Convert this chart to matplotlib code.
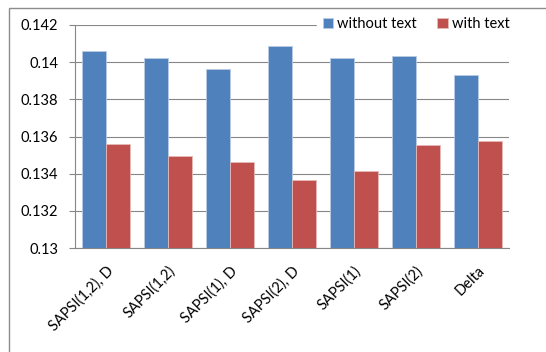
import numpy as np
import matplotlib
matplotlib.use("Agg")
import matplotlib.pyplot as plt
from matplotlib.patches import Rectangle

# Scores per feature set
categories = ["SAPSI(1,2), D", "SAPSI(1,2)", "SAPSI(1), D", "SAPSI(2), D",
              "SAPSI(1)", "SAPSI(2)", "Delta"]
without_text = [0.14060, 0.14024, 0.13962, 0.14089, 0.14024, 0.14032, 0.13933]
with_text = [0.13560, 0.13496, 0.13465, 0.13367, 0.13415, 0.13553, 0.13574]
yticks = [0.13, 0.132, 0.134, 0.136, 0.138, 0.14, 0.142]
ytick_labels = ["0.13", "0.132", "0.134", "0.136", "0.138", "0.14", "0.142"]

BLUE = "#4F81BD"
RED = "#C0504D"
GRID = "#878787"

plt.rcParams["font.family"] = ["Lato", "DejaVu Sans"]

fig = plt.figure(figsize=(5.46, 3.52), dpi=100)
ax = fig.add_axes([75 / 546, 1 - 248 / 352, 434 / 546, 223 / 352])

# outer chart frame (runs off the right and bottom edges)
fig.patches.append(Rectangle((9 / 546, -0.1), 1.0, 1 - 8 / 352 + 0.1,
                             transform=fig.transFigure, fill=False,
                             edgecolor="#8c8c8c", linewidth=1.0))

x = np.arange(len(categories))
w = 0.38
ax.bar(x - w / 2, without_text, w, color=BLUE, edgecolor="#b8cce4",
       linewidth=0.6, label="without text", zorder=3)
ax.bar(x + w / 2, with_text, w, color=RED, edgecolor="#e6b9b8",
       linewidth=0.6, label="with text", zorder=3)

ax.set_xlim(-0.5, len(categories) - 0.5)
ax.set_ylim(0.13, 0.142)
ax.set_yticks(yticks)
ax.set_yticklabels(ytick_labels, fontsize=10.5)
ax.yaxis.grid(True, color=GRID, linewidth=0.8, zorder=0)
ax.set_axisbelow(True)

ax.set_xticks(x)
ax.set_xticklabels(categories, rotation=45, ha="right",
                   rotation_mode="anchor", fontsize=10.5)
ax.tick_params(axis="x", length=0, pad=11)
ax.tick_params(axis="y", length=4, color=GRID, pad=8)

for side in ["top", "right"]:
    ax.spines[side].set_visible(False)
ax.spines["left"].set_color(GRID)
ax.spines["bottom"].set_color(GRID)

leg = ax.legend(loc="upper right", bbox_to_anchor=(1.015, 1.06), ncol=2,
                frameon=True, fancybox=False, fontsize=10.5,
                handlelength=0.7, handleheight=0.7, handletextpad=0.3,
                columnspacing=1.4, borderaxespad=0.0)
leg.get_frame().set_edgecolor("white")
leg.get_frame().set_facecolor("white")
leg.get_frame().set_alpha(1.0)
leg.set_zorder(5)

fig.savefig("out.png", dpi=100)
